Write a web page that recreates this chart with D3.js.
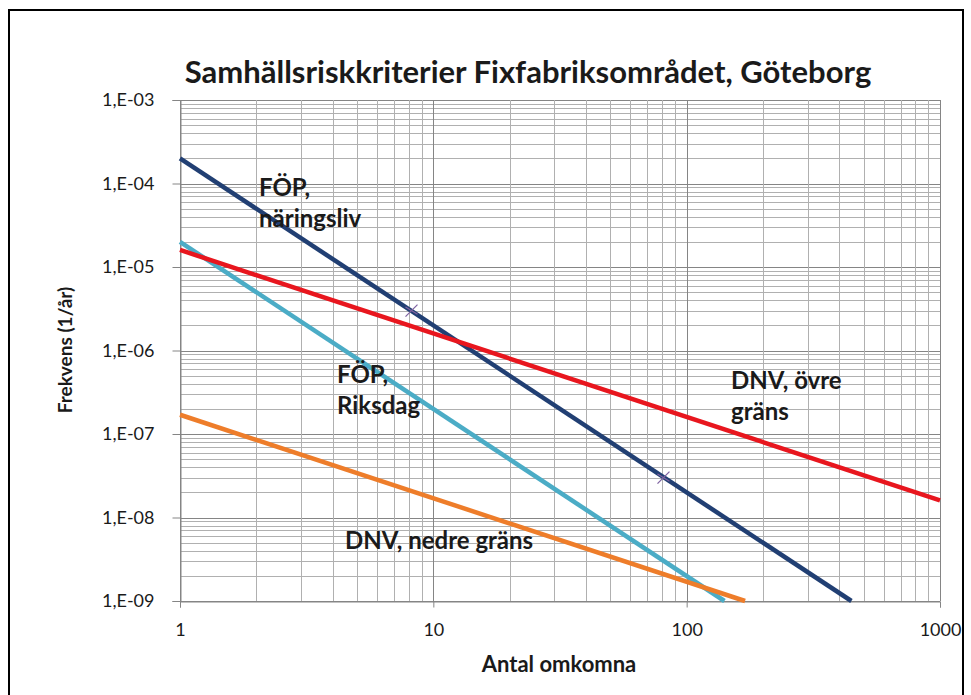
<!DOCTYPE html>
<html>
<head>
<meta charset="utf-8">
<script src="https://cdn.jsdelivr.net/npm/d3@7"></script>
<style>
  html, body { margin: 0; padding: 0; background: #fff; }
  svg { display: block; }
  text { font-family: Lato, "Open Sans", sans-serif; fill: #1a1a1a; }
</style>
</head>
<body>
<svg id="chart" width="971" height="695"></svg>
<script>
// ---- data ----
const chartTitle = "Samhällsriskkriterier Fixfabriksområdet, Göteborg";
const xTitle = "Antal omkomna";
const yTitle = "Frekvens (1/år)";
const xTickValues = [1, 10, 100, 1000];
const xTickLabels = ["1", "10", "100", "1000"];
const yTickValues = [1e-9, 1e-8, 1e-7, 1e-6, 1e-5, 1e-4, 1e-3];
const yTickLabels = ["1,E-09", "1,E-08", "1,E-07", "1,E-06", "1,E-05", "1,E-04", "1,E-03"];

const seriesNames = ["FÖP, näringsliv", "FÖP, Riksdag", "DNV, övre gräns", "DNV, nedre gräns"];
const fopNaringslivN = [1, 447];
const fopNaringslivF = [2e-4, 1e-9];
const fopRiksdagN = [1, 141];
const fopRiksdagF = [2e-5, 1e-9];
const dnvOvreN = [1, 1000];
const dnvOvreF = [1.6e-5, 1.6e-8];
const dnvNedreN = [1, 170];
const dnvNedreF = [1.7e-7, 1e-9];
const markerN = [8.2, 81];
const markerF = [3e-6, 3e-8];

// ---- layout / style ----
const svg = d3.select("#chart");
const plot = { left: 180, right: 940, top: 100, bottom: 601 };
const colors = ["#213f73", "#4bacc6", "#e8161e", "#ee7d2a"];

const x = d3.scaleLog().domain([1, 1000]).range([plot.left, plot.right]);
const y = d3.scaleLog().domain([1e-9, 1e-3]).range([plot.bottom, plot.top]);

// frame
svg.append("path")
  .attr("d", `M9,695 V10 H963 V695`)
  .attr("fill", "none").attr("stroke", "#000").attr("stroke-width", 2);

// grid
const isMajor = v => Math.abs(Math.log10(v) - Math.round(Math.log10(v))) < 1e-9;
const g = svg.append("g");
g.selectAll("line.hg").data(y.ticks()).enter().append("line")
  .attr("x1", plot.left).attr("x2", plot.right)
  .attr("y1", d => Math.round(y(d)) + 0.5).attr("y2", d => Math.round(y(d)) + 0.5)
  .attr("stroke", d => isMajor(d) ? "#858585" : "#b0b0b0").attr("stroke-width", 1);
g.selectAll("line.vg").data(x.ticks()).enter().append("line")
  .attr("y1", plot.top).attr("y2", plot.bottom)
  .attr("x1", d => Math.round(x(d)) + 0.5).attr("x2", d => Math.round(x(d)) + 0.5)
  .attr("stroke", d => isMajor(d) ? "#858585" : "#b0b0b0").attr("stroke-width", 1);

// axes
const yAxis = d3.axisLeft(y).tickValues(yTickValues)
  .tickFormat((d, i) => yTickLabels[i]).tickSize(8).tickPadding(18);
const xAxis = d3.axisBottom(x).tickValues(xTickValues)
  .tickFormat((d, i) => xTickLabels[i]).tickSize(6).tickPadding(16);

const ya = svg.append("g").attr("transform", `translate(${plot.left + 0.5},0)`).call(yAxis);
const xa = svg.append("g").attr("transform", `translate(0,${plot.bottom + 0.5})`).call(xAxis);
[ya, xa].forEach(a => {
  a.select(".domain").attr("stroke", "#858585");
  a.selectAll(".tick line").attr("stroke", "#858585");
  a.selectAll(".tick text").style("font-family", "Lato, sans-serif")
    .style("font-size", "18px").attr("fill", "#222");
});

// series lines
const seriesN = [fopNaringslivN, fopRiksdagN, dnvOvreN, dnvNedreN];
const seriesF = [fopNaringslivF, fopRiksdagF, dnvOvreF, dnvNedreF];
const line = d3.line().x(d => x(d[0])).y(d => y(d[1]));
seriesN.forEach((ns, i) => {
  const pts = ns.map((n, j) => [n, seriesF[i][j]]);
  svg.append("path").datum(pts)
    .attr("d", line)
    .attr("fill", "none")
    .attr("stroke", colors[i])
    .attr("stroke-width", 4.5);
});

// markers (x)
const mk = svg.append("g");
markerN.forEach((n, i) => {
  const cx = x(n), cy = y(markerF[i]), s = 6;
  mk.append("path")
    .attr("d", `M${cx - s},${cy + s}L${cx + s},${cy - s}M${cx - s},${cy - s * 0.6}L${cx + s},${cy + s * 0.6}`)
    .attr("stroke", "#8064a2").attr("stroke-width", 1.3).attr("fill", "none");
});

// series labels
const labels = [
  { lines: ["FÖP,", "näringsliv"], x: 259, y: 196 },
  { lines: ["FÖP,", "Riksdag"], x: 337, y: 383 },
  { lines: ["DNV, övre", "gräns"], x: 731, y: 389 },
  { lines: ["DNV, nedre gräns"], x: 345, y: 549 }
];
labels.forEach(l => {
  const t = svg.append("text").attr("x", l.x).attr("y", l.y)
    .style("font-size", "24px").style("font-weight", "bold");
  l.lines.forEach((s, k) => {
    t.append("tspan").attr("x", l.x).attr("dy", k === 0 ? 0 : 31).text(s);
  });
});

// title
svg.append("text").attr("x", 528).attr("y", 83)
  .attr("text-anchor", "middle")
  .style("font-size", "31px").style("font-weight", "bold")
  .text(chartTitle);

// axis titles
svg.append("text").attr("x", 559).attr("y", 672)
  .attr("text-anchor", "middle")
  .style("font-size", "22px").style("font-weight", "bold")
  .text(xTitle);
svg.append("text")
  .attr("transform", "translate(72,350) rotate(-90)")
  .attr("text-anchor", "middle")
  .style("font-size", "19px").style("font-weight", "bold")
  .text(yTitle);
</script>
</body>
</html>
